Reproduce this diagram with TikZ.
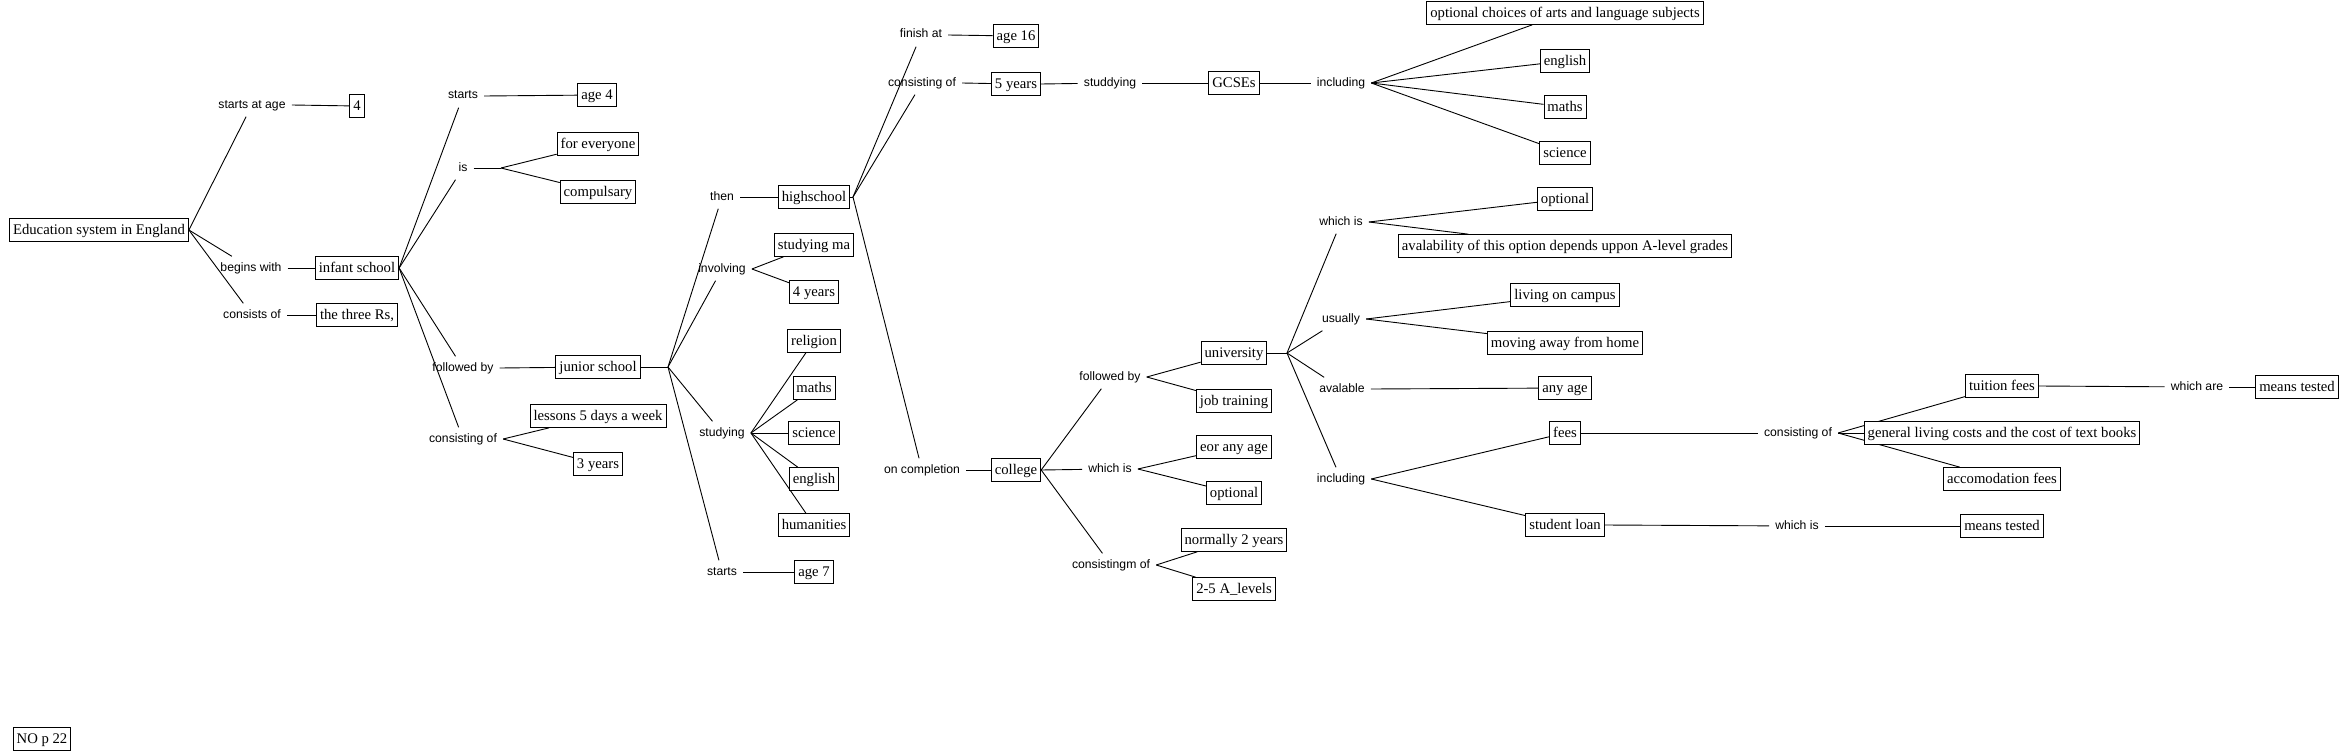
\documentclass[tikz,border=0pt]{standalone}
\usepackage{fontspec}
\setmainfont{Liberation Serif}
\newfontfamily\labelfont{Liberation Sans}
\pgfdeclarelayer{back}
\pgfdeclarelayer{bg}
\pgfsetlayers{back,bg,main}
\begin{document}
\begin{tikzpicture}[x=1pt,y=-1pt,
  concept/.style={draw, line width=0.9pt, fill=white, font=\fontsize{14.7}{16}\selectfont,
    inner xsep=3.5pt, inner ysep=3.5pt, text height=12.5pt, text depth=3.3pt},
  link/.style={font=\labelfont\fontsize{12.2}{14}\selectfont,
    inner xsep=6pt, inner ysep=5.5pt, text height=9pt, text depth=3pt},
  conn/.style={line width=0.9pt}]
\useasboundingbox (0,0) rectangle (2345,752);
% concepts
\node[concept] (root) at (99,230) {Education system in England};
\node[concept] (c4) at (357,106) {4};
\node[concept] (infant) at (357,268) {infant school};
\node[concept] (rs) at (357,315) {the three Rs,};
\node[concept] (age4) at (597,95) {age 4};
\node[concept] (everyone) at (598,144) {for everyone};
\node[concept] (compuls) at (598,192) {compulsary};
\node[concept] (junior) at (598,367) {junior school};
\node[concept] (lessons) at (598,416) {lessons 5 days a week};
\node[concept] (threey) at (598,464) {3 years};
\node[concept] (high) at (814,197) {highschool};
\node[concept] (studma) at (814,245) {studying ma};
\node[concept] (foury) at (814,292) {4 years};
\node[concept] (religion) at (814,341) {religion};
\node[concept] (mathsA) at (814,388) {maths};
\node[concept] (scienceA) at (814,433) {science};
\node[concept] (englishA) at (814,479) {english};
\node[concept] (humanities) at (814,525) {humanities};
\node[concept] (age7) at (814,572) {age 7};
\node[concept] (age16) at (1016,36) {age 16};
\node[concept] (fivey) at (1016,84) {5 years};
\node[concept] (college) at (1016,470) {college};
\node[concept] (gcse) at (1234,83) {GCSEs};
\node[concept] (univ) at (1234,353) {university};
\node[concept] (job) at (1234,401) {job training};
\node[concept] (eor) at (1234,447) {eor any age};
\node[concept] (optionalA) at (1234,493) {optional};
\node[concept] (normally) at (1234,540) {normally 2 years};
\node[concept] (alevels) at (1234,589) {2-5 A\_levels};
\node[concept] (optchoices) at (1565,13) {optional choices of arts and language subjects};
\node[concept] (englishB) at (1565,61) {english};
\node[concept] (mathsB) at (1565,107) {maths};
\node[concept] (scienceB) at (1565,153) {science};
\node[concept] (optionalB) at (1565,199) {optional};
\node[concept] (avail) at (1565,246) {avalability of this option depends uppon A-level grades};
\node[concept] (living) at (1565,295) {living on campus};
\node[concept] (moving) at (1565,343) {moving away from home};
\node[concept] (anyage) at (1565,388) {any age};
\node[concept] (fees) at (1565,433) {fees};
\node[concept] (loan) at (1565,525) {student loan};
\node[concept] (tuition) at (2002,386) {tuition fees};
\node[concept] (general) at (2002,433) {general living costs and the cost of text books};
\node[concept] (accom) at (2002,479) {accomodation fees};
\node[concept] (meansA) at (2297,387) {means tested};
\node[concept] (meansB) at (2002,526) {means tested};
\node[concept] (nop) at (42,739) {NO p 22};
% linking phrases
\node[link] (lStartsAge) at (252,105) {starts at age};
\node[link] (lBegins) at (251,268) {begins with};
\node[link] (lConsists) at (252,315) {consists of};
\node[link] (lStartsA) at (463,96) {starts};
\node[link] (lIs) at (463,168) {is};
\node[link] (lFollowedA) at (463,368) {followed by};
\node[link] (lConsistingA) at (463,439) {consisting of};
\node[link] (lThen) at (722,197) {then};
\node[link] (lInvolving) at (722,269) {involving};
\node[link] (lStudying) at (722,433) {studying};
\node[link] (lStartsB) at (722,572) {starts};
\node[link] (lFinish) at (921,35) {finish at};
\node[link] (lConsistingB) at (922,83) {consisting of};
\node[link] (lOnCompl) at (922,470) {on completion};
\node[link] (lStuddying) at (1110,83) {studdying};
\node[link] (lFollowedB) at (1110,377) {followed by};
\node[link] (lWhichIsA) at (1110,469) {which is};
\node[link] (lConsistingm) at (1111,565) {consistingm of};
\node[link] (lIncludingA) at (1341,83) {including};
\node[link] (lWhichIsB) at (1341,222) {which is};
\node[link] (lUsually) at (1341,319) {usually};
\node[link] (lAvalable) at (1342,389) {avalable};
\node[link] (lIncludingB) at (1341,479) {including};
\node[link] (lConsistingC) at (1798,433) {consisting of};
\node[link] (lWhichIsC) at (1797,526) {which is};
\node[link] (lWhichAre) at (2197,387) {which are};
% fork points
\coordinate (fIs) at (501,168);
\coordinate (fJ) at (668,367);
\coordinate (fH) at (853,197);
\coordinate (fU) at (1287,353);
\begin{pgfonlayer}{back}
\fill[white] (0,0) rectangle (2345,752);
\end{pgfonlayer}
\begin{pgfonlayer}{bg}
% root
\draw[conn] (root.east) -- (lStartsAge);
\draw[conn] (root.east) -- (lBegins);
\draw[conn] (root.east) -- (lConsists);
\draw[conn] (lStartsAge.east) -- (c4);
\draw[conn] (lBegins.east) -- (infant);
\draw[conn] (lConsists.east) -- (rs);
% infant school
\draw[conn] (infant.east) -- (lStartsA);
\draw[conn] (infant.east) -- (lIs);
\draw[conn] (infant.east) -- (lFollowedA);
\draw[conn] (infant.east) -- (lConsistingA);
\draw[conn] (lStartsA.east) -- (age4);
\draw[conn] (lIs.east) -- (fIs);
\draw[conn] (fIs) -- (everyone);
\draw[conn] (fIs) -- (compuls);
\draw[conn] (lFollowedA.east) -- (junior);
\draw[conn] (lConsistingA.east) -- (lessons);
\draw[conn] (lConsistingA.east) -- (threey);
% junior school
\draw[conn] (junior.east) -- (fJ);
\draw[conn] (fJ) -- (lThen);
\draw[conn] (fJ) -- (lInvolving);
\draw[conn] (fJ) -- (lStudying);
\draw[conn] (fJ) -- (lStartsB);
\draw[conn] (lThen.east) -- (high);
\draw[conn] (lInvolving.east) -- (studma);
\draw[conn] (lInvolving.east) -- (foury);
\draw[conn] (lStudying.east) -- (religion);
\draw[conn] (lStudying.east) -- (mathsA);
\draw[conn] (lStudying.east) -- (scienceA);
\draw[conn] (lStudying.east) -- (englishA);
\draw[conn] (lStudying.east) -- (humanities);
\draw[conn] (lStartsB.east) -- (age7);
% highschool
\draw[conn] (high.east) -- (fH);
\draw[conn] (fH) -- (lFinish);
\draw[conn] (fH) -- (lConsistingB);
\draw[conn] (fH) -- (lOnCompl);
\draw[conn] (lFinish.east) -- (age16);
\draw[conn] (lConsistingB.east) -- (fivey);
\draw[conn] (lOnCompl.east) -- (college);
% GCSEs
\draw[conn] (fivey.east) -- (lStuddying);
\draw[conn] (lStuddying.east) -- (gcse);
\draw[conn] (gcse.east) -- (lIncludingA);
\draw[conn] (lIncludingA.east) -- (optchoices);
\draw[conn] (lIncludingA.east) -- (englishB);
\draw[conn] (lIncludingA.east) -- (mathsB);
\draw[conn] (lIncludingA.east) -- (scienceB);
% college
\draw[conn] (college.east) -- (lFollowedB);
\draw[conn] (college.east) -- (lWhichIsA);
\draw[conn] (college.east) -- (lConsistingm);
\draw[conn] (lFollowedB.east) -- (univ);
\draw[conn] (lFollowedB.east) -- (job);
\draw[conn] (lWhichIsA.east) -- (eor);
\draw[conn] (lWhichIsA.east) -- (optionalA);
\draw[conn] (lConsistingm.east) -- (normally);
\draw[conn] (lConsistingm.east) -- (alevels);
% university
\draw[conn] (univ.east) -- (fU);
\draw[conn] (fU) -- (lWhichIsB);
\draw[conn] (fU) -- (lUsually);
\draw[conn] (fU) -- (lAvalable);
\draw[conn] (fU) -- (lIncludingB);
\draw[conn] (lWhichIsB.east) -- (optionalB);
\draw[conn] (lWhichIsB.east) -- (avail);
\draw[conn] (lUsually.east) -- (living);
\draw[conn] (lUsually.east) -- (moving);
\draw[conn] (lAvalable.east) -- (anyage);
\draw[conn] (lIncludingB.east) -- (fees);
\draw[conn] (lIncludingB.east) -- (loan);
% fees
\draw[conn] (fees.east) -- (lConsistingC);
\draw[conn] (lConsistingC.east) -- (tuition);
\draw[conn] (lConsistingC.east) -- (general);
\draw[conn] (lConsistingC.east) -- (accom);
\draw[conn] (tuition.east) -- (lWhichAre);
\draw[conn] (lWhichAre.east) -- (meansA);
\draw[conn] (loan.east) -- (lWhichIsC);
\draw[conn] (lWhichIsC.east) -- (meansB);
\end{pgfonlayer}
\end{tikzpicture}
\end{document}
